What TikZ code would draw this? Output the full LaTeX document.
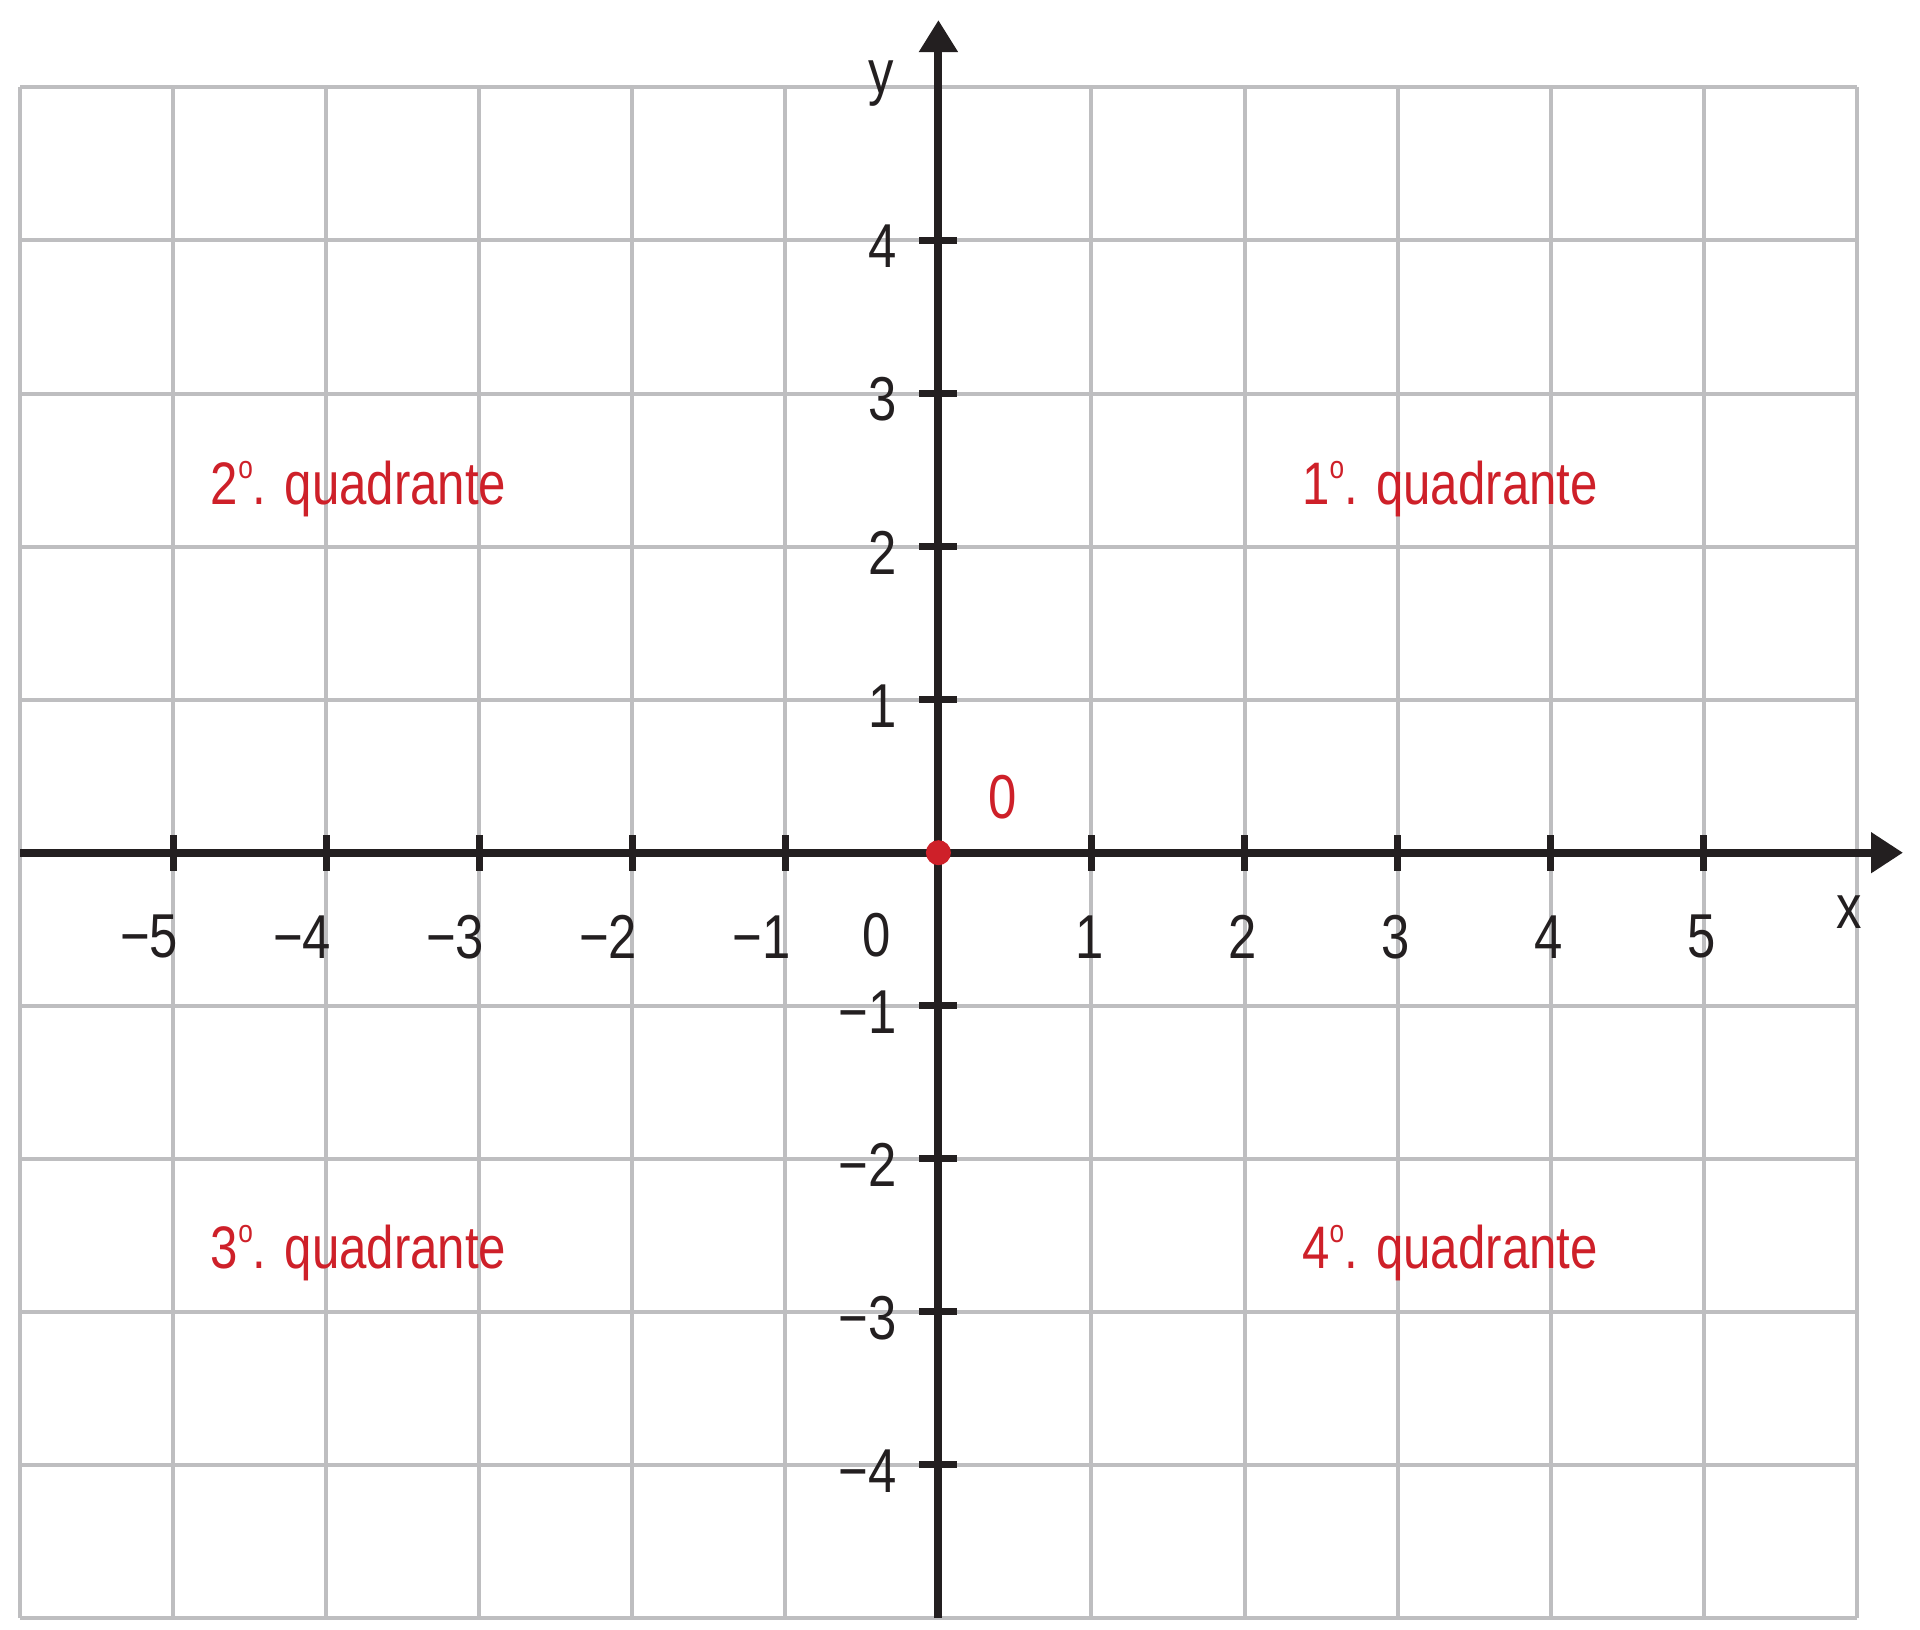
\documentclass[tikz,border=0pt]{standalone}
\usepackage{fontspec}
\setmainfont[FakeStretch=0.82]{Liberation Sans}
\usetikzlibrary{arrows.meta}
\definecolor{gridgray}{RGB}{190,190,192}
\definecolor{axisblack}{RGB}{35,31,32}
\definecolor{quadred}{RGB}{206,32,41}
\newcommand{\ordo}{\raisebox{13pt}{\fontsize{16}{16}\selectfont o}}
\begin{document}
\begin{tikzpicture}[x=76.53pt,y=76.53pt,
  gridline/.style={draw=gridgray,line width=2pt},
  axisline/.style={draw=axisblack,line width=4pt},
  tickline/.style={draw=axisblack,line width=3.5pt},
  numlabel/.style={inner sep=0pt,text=axisblack,font=\fontsize{31}{37}\selectfont},
  quadlabel/.style={inner sep=0pt,anchor=base,text=quadred,font=\fontsize{30}{36}\selectfont},
  originlabel/.style={inner sep=0pt,text=quadred,font=\fontsize{31}{37}\selectfont}]
\useasboundingbox (-6.131,-5.078) rectangle (6.413,5.571);
\draw[gridline,step=76.53pt] (-6,-5) grid (6,5);
% axes
\coordinate (xstart) at (-6,0);
\coordinate (xend) at (6.302,0);
\coordinate (ystart) at (0,-5);
\coordinate (yend) at (0,5.44);
\draw[axisline,-{Triangle[length=16pt,width=19.5pt]}] (xstart) -- (xend);
\draw[axisline,-{Triangle[length=16pt,width=18.5pt]}] (ystart) -- (yend);
% x ticks
\foreach \i in {-5,-4,-3,-2,-1,1,2,3,4,5}{
  \coordinate (xtA\i) at (\i,-0.118);
  \coordinate (xtB\i) at (\i,0.118);
  \draw[tickline] (xtA\i) -- (xtB\i);
}
% y ticks
\foreach \i in {-4,-3,-2,-1,1,2,3,4}{
  \coordinate (ytA\i) at (-0.124,\i);
  \coordinate (ytB\i) at (0.124,\i);
  \draw[tickline] (ytA\i) -- (ytB\i);
}
% x labels
\foreach \i in {1,2,3,4,5}{
  \node[numlabel] (xl\i) at (\i-0.015,-0.55) {\i};
}
\foreach \i in {1,2,3,4,5}{
  \node[numlabel,anchor=east] (xln\i) at (-\i+0.035,-0.55) {−\i};
}
\node[numlabel] (xl0) at (-0.402,-0.54) {0};
% y labels
\foreach \i in {1,2,3,4}{
  \node[numlabel,anchor=east] (yl\i) at (-0.27,\i-0.04) {\i};
  \node[numlabel,anchor=east] (yln\i) at (-0.27,-\i-0.04) {−\i};
}
% axis names
\node[numlabel] (xname) at (5.949,-0.387) {x};
\node[numlabel,anchor=base] (yname) at (-0.372,4.957) {y};
% origin
\node[circle,fill=quadred,inner sep=0pt,minimum size=12.5pt] (origin) at (0,0) {};
\node[originlabel] (olabel) at (0.422,0.364) {0};
% quadrants
\node[quadlabel] (q1) at (3.343,2.272) {1\ordo. quadrante};
\node[quadlabel] (q2) at (-3.788,2.272) {2\ordo. quadrante};
\node[quadlabel] (q3) at (-3.788,-2.718) {3\ordo. quadrante};
\node[quadlabel] (q4) at (3.343,-2.718) {4\ordo. quadrante};
\end{tikzpicture}
\end{document}
